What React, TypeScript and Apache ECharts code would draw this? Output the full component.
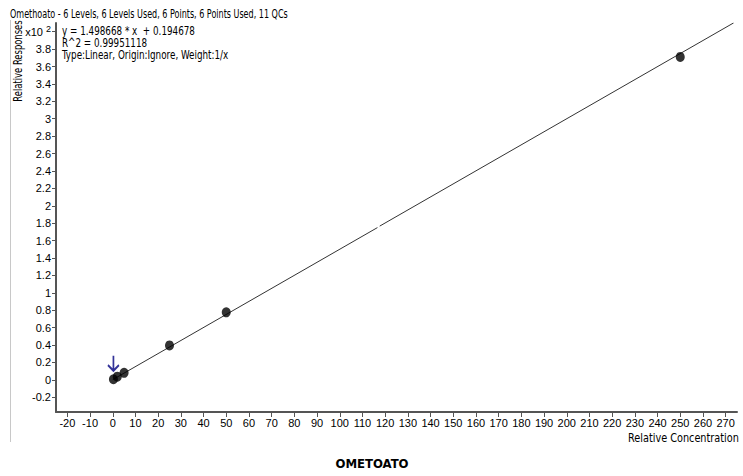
import React, { useEffect, useRef } from "react";
import * as echarts from "echarts";

// Calibration points (concentration, response in absolute units)
const concentrations = [0.3, 2, 5, 25, 50, 250];
const responses = [0.6, 3.6, 8.0, 39.5, 77.5, 371];

// Regression line as drawn, with its small break near x≈117
const fitLineX = [0, 116.6, 117.6, 273.5];
const fitLineY = [0.19, 174.9, 176.6, 410.1];

// QC arrow marker position
const qcMarker = [0.3, 0.6];

const xTicks = [-20, -10, 0, 10, 20, 30, 40, 50, 60, 70, 80, 90, 100, 110, 120, 130, 140, 150, 160, 170, 180, 190, 200, 210, 220, 230, 240, 250, 260, 270];
const yTicks = [-0.2, 0, 0.2, 0.4, 0.6, 0.8, 1, 1.2, 1.4, 1.6, 1.8, 2, 2.2, 2.4, 2.6, 2.8, 3, 3.2, 3.4, 3.6, 3.8, 4];

const titleText = "Omethoato - 6 Levels, 6 Levels Used, 6 Points, 6 Points Used, 11 QCs";
const equationLines = ["y = 1.498668 * x  + 0.194678", "R^2 = 0.99951118", "Type:Linear, Origin:Ignore, Weight:1/x"];
const compoundName = "OMETOATO";
const scaleFactor = 100;

const FONT = "'DejaVu Sans Condensed', 'Liberation Sans', sans-serif";
const AXFONT = "'Liberation Sans', Arial, sans-serif";

export default function App() {
  const ref = useRef<HTMLDivElement>(null);
  useEffect(() => {
    if (!ref.current) return;
    const chart = echarts.init(ref.current, null, { renderer: "svg" });
    const axisColor = "#555555";
    const option: any = {
      animation: false,
      backgroundColor: "#ffffff",
      grid: { left: 56, right: 6, top: 23, bottom: 64 },
      xAxis: {
        type: "value",
        min: -25,
        max: 275,
        splitLine: { show: false },
        axisLine: { onZero: false, lineStyle: { color: axisColor, width: 2 } },
        axisTick: { customValues: xTicks, length: 5, lineStyle: { color: axisColor, width: 1 } },
        axisLabel: {
          customValues: xTicks,
          color: "#000",
          fontFamily: AXFONT,
          fontSize: 11,
          margin: 5,
        },
      },
      yAxis: {
        type: "value",
        min: -0.37,
        max: 4.1,
        splitLine: { show: false },
        axisLine: { onZero: false, lineStyle: { color: axisColor, width: 2 } },
        axisTick: { customValues: yTicks, length: 4, lineStyle: { color: axisColor, width: 1 } },
        axisLabel: {
          customValues: yTicks,
          color: "#000",
          fontFamily: AXFONT,
          fontSize: 11,
          margin: 5,
          formatter: (v: number) => (Math.abs(v - 4) < 1e-6 ? "{a|x10 }{b|2}" : String(parseFloat(v.toFixed(1)))),
          rich: {
            a: { fontFamily: AXFONT, fontSize: 11, color: "#000" },
            b: { fontFamily: AXFONT, fontSize: 9, color: "#000", verticalAlign: "top", padding: [0, 0, 5, 0] },
          },
        },
      },
      graphic: [
        { type: "line", shape: { x1: 10.5, y1: 20, x2: 10.5, y2: 442 }, style: { stroke: "#c8c8c8", lineWidth: 1 } },
        {
          type: "text",
          x: 10,
          y: 13,
          scaleX: 0.745,
          style: { text: titleText, font: `12px ${FONT}`, fill: "#000", verticalAlign: "middle" },
        },
        ...equationLines.map((t, i) => ({
          type: "text",
          x: 62,
          y: 31 + i * 12,
          scaleX: 0.815,
          style: { text: t, font: `12px ${FONT}`, fill: "#000", verticalAlign: "middle" },
        })),
        {
          type: "text",
          x: 18,
          y: 61,
          rotation: Math.PI / 2,
          scaleX: 0.78,
          style: { text: "Relative Responses", font: `12px ${FONT}`, fill: "#000", align: "center", verticalAlign: "middle" },
        },
        {
          type: "text",
          x: 628,
          y: 438,
          scaleX: 0.9,
          style: { text: "Relative Concentration", font: `12px ${FONT}`, fill: "#000", verticalAlign: "middle" },
        },
        {
          type: "text",
          x: 372,
          y: 463,
          style: { text: compoundName, font: `bold 13px ${FONT}`, fill: "#000", align: "center", verticalAlign: "middle" },
        },
      ],
      series: [
        {
          type: "line",
          data: [
            [fitLineX[0], fitLineY[0] / scaleFactor],
            [fitLineX[1], fitLineY[1] / scaleFactor],
            "-",
            [fitLineX[2], fitLineY[2] / scaleFactor],
            [fitLineX[3], fitLineY[3] / scaleFactor],
          ],
          showSymbol: false,
          symbol: "none",
          connectNulls: false,
          lineStyle: { color: "#333333", width: 1 },
          z: 2,
        },
        {
          type: "scatter",
          data: concentrations.map((c, i) => [c, responses[i] / scaleFactor]),
          symbol: "circle",
          symbolSize: [9, 10],
          itemStyle: { color: "#000000" },
          z: 3,
        },
        {
          type: "scatter",
          data: [[qcMarker[0], qcMarker[1] / scaleFactor]],
          symbol: "path://M6,0 L6,16 M1,10 L6,16 L11,10",
          symbolSize: [11, 15],
          symbolOffset: [0, -16],
          itemStyle: { color: "none", borderColor: "#000080", borderWidth: 2 },
          z: 4,
        },
      ],
    };
    chart.setOption(option);
    return () => chart.dispose();
  }, []);
  return <div ref={ref} style={{ position: "absolute", left: 0, top: 0, width: 743, height: 476 }} />;
}
